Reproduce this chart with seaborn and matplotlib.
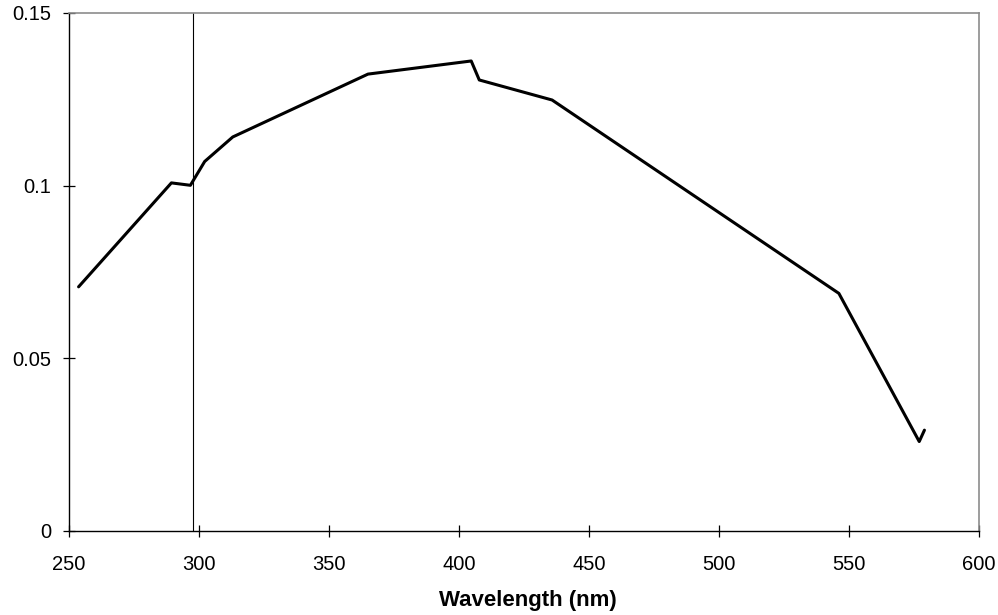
import matplotlib
matplotlib.use("Agg")
import matplotlib.pyplot as plt
import seaborn as sns
import pandas as pd

wavelength = [253.7, 289.4, 296.7, 302.2, 313.0, 365.0, 404.7, 407.8, 435.8, 546.1, 577.0, 579.0]
response = [0.0707, 0.1008, 0.1001, 0.1070, 0.1141, 0.1323, 0.1361, 0.1306, 0.1248, 0.0688, 0.0259, 0.0292]
x_ticks = [250, 300, 350, 400, 450, 500, 550, 600]
y_ticks = [0, 0.05, 0.1, 0.15]
y_tick_labels = ["0", "0.05", "0.1", "0.15"]
marker_x = 297.7

sns.set_theme(style="white")
plt.rcParams['font.family'] = ['Liberation Sans', 'DejaVu Sans']

df = pd.DataFrame({"Wavelength": wavelength, "Response": response})

fig = plt.figure(figsize=(9.98, 6.15), dpi=100)
ax = fig.add_axes([0.0691, 0.1366, 0.9119, 0.8423])

sns.lineplot(data=df, x="Wavelength", y="Response", ax=ax, color="black",
             linewidth=2.2, sort=False, estimator=None)
ax.axvline(marker_x, color="black", linewidth=0.8)

ax.set_xlim(250, 600)
ax.set_ylim(0, 0.15)
ax.set_xticks(x_ticks)
ax.set_xticklabels([str(t) for t in x_ticks], fontsize=14.5)
ax.set_yticks(y_ticks)
ax.set_yticklabels(y_tick_labels, fontsize=14.5)
ax.tick_params(axis="both", direction="inout", length=9, width=0.9, color="black",
               bottom=True, left=True, labelcolor="black")
ax.tick_params(axis="x", pad=12.7)
ax.tick_params(axis="y", pad=8)
ax.set_xlabel("Wavelength (nm)", fontsize=16, fontweight="bold", color="black")
ax.xaxis.set_label_coords(0.504, -0.135)
ax.xaxis.label.set_va("center")
ax.set_ylabel("")

for side in ["left", "bottom"]:
    ax.spines[side].set_color("black")
    ax.spines[side].set_linewidth(1.0)
for side in ["top", "right"]:
    ax.spines[side].set_color("#8c8c8c")
    ax.spines[side].set_linewidth(1.2)

fig.savefig("out.png", dpi=100, facecolor="white")
